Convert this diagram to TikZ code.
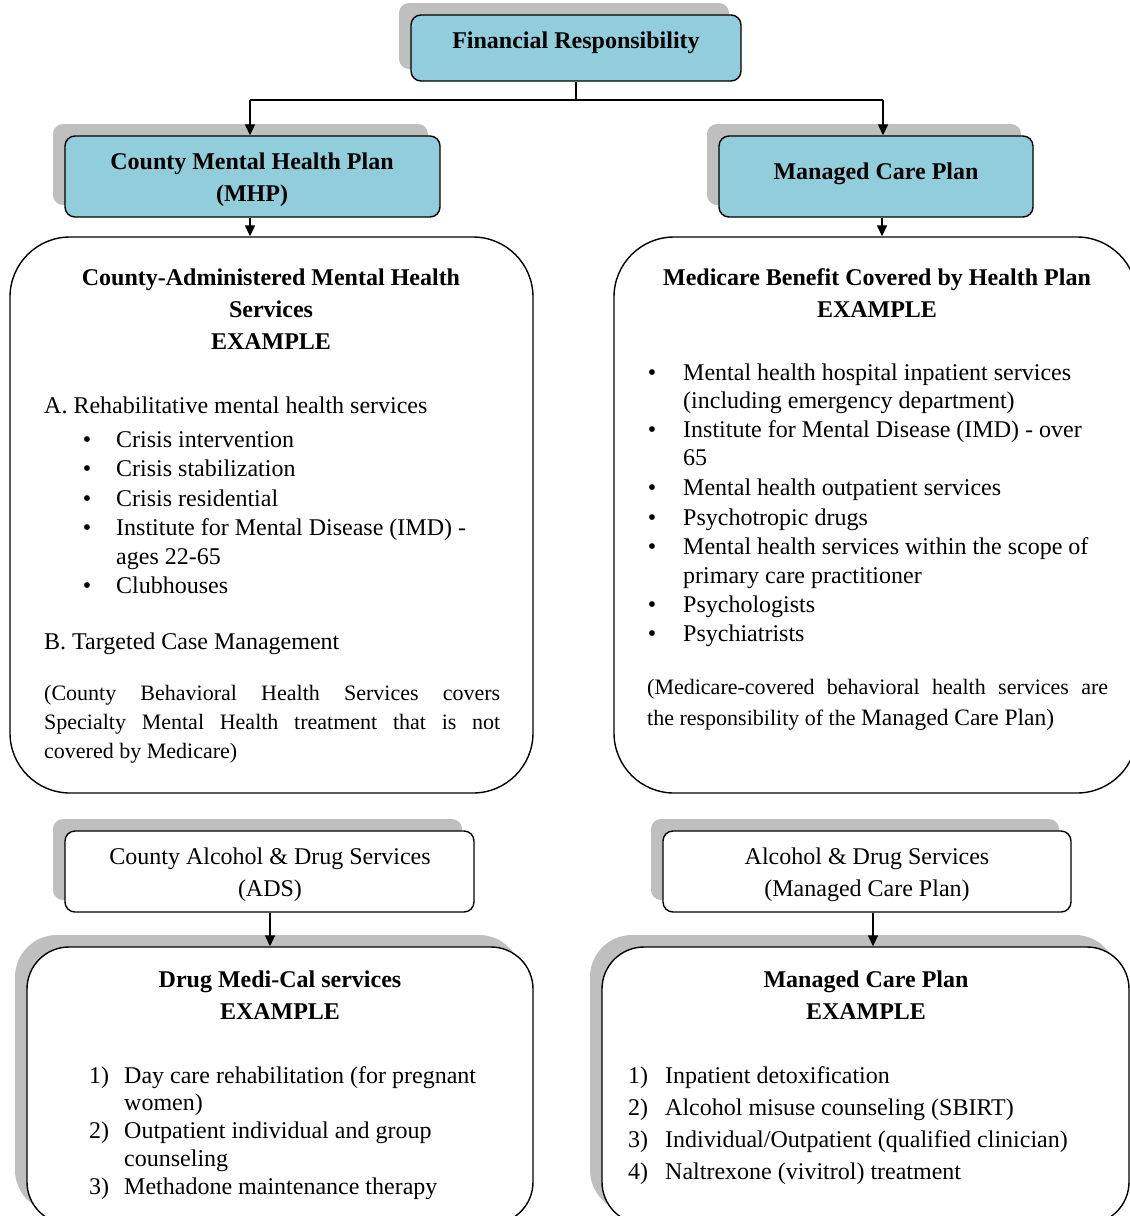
\documentclass[tikz,border=0pt]{standalone}
\usepackage{fontspec}
\setmainfont{Liberation Serif}
\usetikzlibrary{shadows,arrows.meta}
\definecolor{boxblue}{RGB}{146,205,220}
\definecolor{shgray}{RGB}{191,191,191}
\newcommand\rgf{\fontsize{24}{29}\selectfont}
\newcommand\smf{\fontsize{22}{29}\selectfont}
\begin{document}
\begin{tikzpicture}[x=1pt,y=-1pt,
 boxbase/.style={draw=black, line width=1.4pt, rectangle, inner sep=0pt},
 smallbox/.style={boxbase, rounded corners=10pt},
 bluebox/.style={smallbox, fill=boxblue},
 whitebox/.style={smallbox, fill=white},
 bigbox/.style={boxbase, fill=white, rounded corners=60pt},
 lowbox/.style={boxbase, fill=white, rounded corners=42pt},
 shad/.style={general shadow={fill=shgray, shadow xshift=-12pt, shadow yshift=12pt}},
 tl/.style={anchor=base west, inner sep=0pt, font=\rgf},
 tc/.style={anchor=base, inner sep=0pt, font=\rgf},
 tb/.style={anchor=base, inner sep=0pt, font=\rgf\bfseries},
 bul/.style={anchor=base, inner sep=0pt, font=\rgf},
 conn/.style={line width=1.4pt},
 arr/.style={conn, -{Triangle[length=11pt,width=10pt]}},
]
\useasboundingbox (0,0) rectangle (1130,1216);
\fill[white] (0,0) rectangle (1130,1216);

% ---------- boxes ----------
\node[bluebox, shad, minimum width=330pt, minimum height=66pt] (fin) at (576,48) {};
\node[bluebox, shad, minimum width=375pt, minimum height=81pt] (mhp) at (252.5,176.5) {};
\node[bluebox, shad, minimum width=314pt, minimum height=81pt] (mcp) at (876,176.5) {};
\node[bigbox, minimum width=523pt, minimum height=556pt] (cbig) at (271.5,515) {};
\node[bigbox, minimum width=523pt, minimum height=556pt] (mbig) at (875.5,515) {};
\node[whitebox, shad, minimum width=409pt, minimum height=81pt] (ads) at (269.5,871.5) {};
\node[whitebox, shad, minimum width=408pt, minimum height=81pt] (adm) at (867,871.5) {};
\node[lowbox, shad, minimum width=506pt, minimum height=277pt] (dmc) at (280,1085.5) {};
\node[lowbox, shad, minimum width=527pt, minimum height=277pt] (mcb) at (865.5,1085.5) {};

% ---------- connectors ----------
\coordinate (jl) at (250,100);
\coordinate (jr) at (883,100);
\coordinate (cl) at (250,0);
\coordinate (cr) at (882,0);
\coordinate (al) at (270,0);
\coordinate (ar) at (873,0);
\draw[conn] (fin.south) -- (fin.south |- jl);
\draw[conn] (jl) -- (jr);
\draw[arr] (jl) -- (jl |- mhp.north);
\draw[arr] (jr) -- (jr |- mcp.north);
\draw[arr] (cl |- mhp.south) -- (cl |- cbig.north);
\draw[arr] (cr |- mcp.south) -- (cr |- mbig.north);
\draw[arr] (al |- ads.south) -- (al |- dmc.north);
\draw[arr] (ar |- adm.south) -- (ar |- mcb.north);

% ---------- header texts ----------
\node[tb] (tfin) at (576,48) {Financial Responsibility};
\node[tb] (tmhp1) at (252,169) {County Mental Health Plan};
\node[tb] (tmhp2) at (252,201) {(MHP)};
\node[tb] (tmcp) at (876,179) {Managed Care Plan};

% ---------- left big box ----------
\node[tb] (lt1) at (271,285) {County-Administered Mental Health};
\node[tb] (lt2) at (271,317) {Services};
\node[tb] (lt3) at (271,349) {EXAMPLE};
\node[tl] (la) at (44,413) {A. Rehabilitative mental health services};
\node[bul] (lb1) at (87,447) {•};
\node[tl] (li1) at (116,447) {Crisis intervention};
\node[bul] (lb2) at (87,476) {•};
\node[tl] (li2) at (116,476) {Crisis stabilization};
\node[bul] (lb3) at (87,506) {•};
\node[tl] (li3) at (116,506) {Crisis residential};
\node[bul] (lb4) at (87,535) {•};
\node[tl] (li4) at (116,535) {Institute for Mental Disease (IMD) -};
\node[tl] (li4b) at (116,564) {ages 22-65};
\node[bul] (lb5) at (87,593) {•};
\node[tl] (li5) at (116,593) {Clubhouses};
\node[tl] (lbm) at (44,649) {B. Targeted Case Management};
\node[tl, font=\smf] (lp1) at (44,700) {\makebox[456pt][s]{(County Behavioral Health Services covers}};
\node[tl, font=\smf] (lp2) at (44,729) {\makebox[456pt][s]{Specialty Mental Health treatment that is not}};
\node[tl, font=\smf] (lp3) at (44,758) {covered by Medicare)};

% ---------- right big box ----------
\node[tb] (rt1) at (877,285) {Medicare Benefit Covered by Health Plan};
\node[tb] (rt2) at (877,317) {EXAMPLE};
\node[bul] (rb1) at (652,380) {•};
\node[tl] (ri1) at (683,380) {Mental health hospital inpatient services};
\node[tl] (ri1b) at (683,408) {(including emergency department)};
\node[bul] (rb2) at (652,437) {•};
\node[tl] (ri2) at (683,437) {Institute for Mental Disease (IMD) - over};
\node[tl] (ri2b) at (683,465) {65};
\node[bul] (rb3) at (652,495) {•};
\node[tl] (ri3) at (683,495) {Mental health outpatient services};
\node[bul] (rb4) at (652,525) {•};
\node[tl] (ri4) at (683,525) {Psychotropic drugs};
\node[bul] (rb5) at (652,554) {•};
\node[tl] (ri5) at (683,554) {Mental health services within the scope of};
\node[tl] (ri5b) at (683,583) {primary care practitioner};
\node[bul] (rb6) at (652,612) {•};
\node[tl] (ri6) at (683,612) {Psychologists};
\node[bul] (rb7) at (652,641) {•};
\node[tl] (ri7) at (683,641) {Psychiatrists};
\node[tl, font=\smf] (rp1) at (647,694) {\makebox[461pt][s]{(Medicare-covered behavioral health services are}};
\node[tl, font=\smf] (rp2) at (647,725) {the responsibility of the {\fontsize{23.5}{29}\selectfont Managed Care Plan)}};

% ---------- ADS boxes ----------
\node[tc] (tads1) at (270,864) {County Alcohol \& Drug Services};
\node[tc] (tads2) at (270,896) {(ADS)};
\node[tc] (tadm1) at (867,864) {Alcohol \& Drug Services};
\node[tc] (tadm2) at (867,896) {(Managed Care Plan)};

% ---------- bottom left ----------
\node[tb] (dt1) at (280,987) {Drug Medi-Cal services};
\node[tb] (dt2) at (280,1019) {EXAMPLE};
\node[tl] (dn1) at (89,1083) {1)};
\node[tl] (di1) at (124,1083) {Day care rehabilitation (for pregnant};
\node[tl] (di1b) at (124,1110) {women)};
\node[tl] (dn2) at (89,1138) {2)};
\node[tl] (di2) at (124,1138) {Outpatient individual and group};
\node[tl] (di2b) at (124,1166) {counseling};
\node[tl] (dn3) at (89,1194) {3)};
\node[tl] (di3) at (124,1194) {Methadone maintenance therapy};

% ---------- bottom right ----------
\node[tb] (mt1) at (866,987) {Managed Care Plan};
\node[tb] (mt2) at (866,1019) {EXAMPLE};
\node[tl] (mn1) at (628,1083) {1)};
\node[tl] (mi1) at (665,1083) {Inpatient detoxification};
\node[tl] (mn2) at (628,1115) {2)};
\node[tl] (mi2) at (665,1115) {Alcohol misuse counseling (SBIRT)};
\node[tl] (mn3) at (628,1147) {3)};
\node[tl] (mi3) at (665,1147) {Individual/Outpatient (qualified clinician)};
\node[tl] (mn4) at (628,1179) {4)};
\node[tl] (mi4) at (665,1179) {Naltrexone (vivitrol) treatment};
\end{tikzpicture}
\end{document}
